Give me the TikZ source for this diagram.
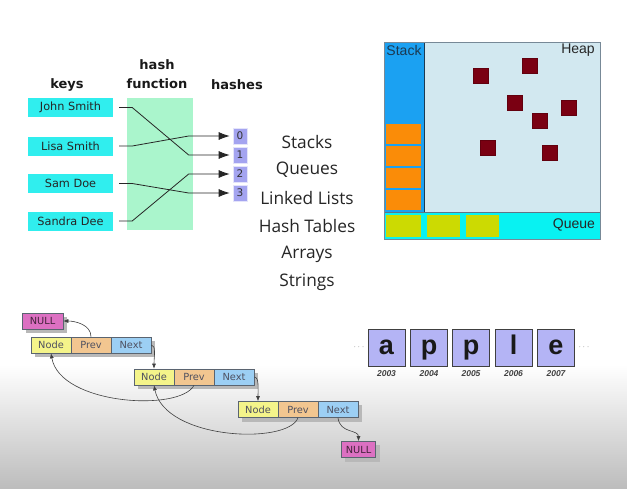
\documentclass[tikz,border=0pt]{standalone}
\usepackage{fontspec}
\setmainfont{DejaVu Sans}
\newfontfamily\opensans{Open Sans}
\newfontfamily\arial{Liberation Sans}
\usetikzlibrary{arrows.meta,calc,backgrounds}

\definecolor{keycyan}{HTML}{30EEEE}
\definecolor{hashgreen}{HTML}{AAF5CC}
\definecolor{hashlav}{HTML}{A4A4F0}
\definecolor{stackblue}{HTML}{1BA1F2}
\definecolor{heapbg}{HTML}{D2E8F0}
\definecolor{stackorange}{HTML}{FA8C08}
\definecolor{objred}{HTML}{7A0012}
\definecolor{queuecyan}{HTML}{08F2F2}
\definecolor{queueitem}{HTML}{CCDA02}
\definecolor{framedark}{HTML}{1C3A52}
\definecolor{arraylav}{HTML}{B4B4F5}
\definecolor{cellnode}{HTML}{F4F48A}
\definecolor{cellprev}{HTML}{F2C690}
\definecolor{cellnext}{HTML}{9CCFF4}
\definecolor{cellnull}{HTML}{DC70C2}
\definecolor{cellline}{HTML}{5A6470}
\definecolor{celltext}{HTML}{4E5060}

\begin{document}
\begin{tikzpicture}[x=1pt,y=-1pt,
  keybox/.style={fill=keycyan, minimum width=85pt, minimum height=19pt, inner sep=0pt,
    font=\fontsize{11.3}{13}\selectfont, text=black!85},
  hashbox/.style={fill=hashlav, draw=white!70!hashlav, line width=0.6pt, minimum width=14pt,
    minimum height=16pt, inner sep=0pt, font=\fontsize{10.5}{12}\selectfont, text=black!80},
  hline/.style={draw=black!85, line width=0.8pt, -{Latex[length=11pt,width=8pt]}},
  headlabel/.style={font=\bfseries\fontsize{13}{19}\selectfont, align=center, text=black!90},
  topic/.style={font=\opensans\fontsize{17.3}{20}\selectfont, text=black!85},
  memlabel/.style={font=\arial\fontsize{14}{16}\selectfont},
  heapobj/.style={fill=objred, draw=objred!80!black, line width=0.4pt, minimum size=15pt, inner sep=0pt},
  stackitem/.style={fill=stackorange, minimum width=35pt, minimum height=20pt, inner sep=0pt},
  queuebox/.style={fill=queueitem, minimum height=22pt, inner sep=0pt},
  charbox/.style={fill=arraylav, draw=black!75, line width=1pt, minimum size=37pt, inner sep=0pt,
    text height=19pt, text depth=5pt, font=\arial\bfseries\fontsize{27}{30}\selectfont, text=black!90},
  yearlabel/.style={font=\arial\bfseries\itshape\fontsize{8.5}{10}\selectfont, text=black!75},
  dotlabel/.style={font=\fontsize{9}{10}\selectfont, text=black!50},
  cell/.style={draw=cellline, line width=0.6pt, minimum width=40pt, minimum height=16pt,
    inner sep=0pt, font=\fontsize{9.8}{11}\selectfont, text=celltext},
  nullcell/.style={cell, fill=cellnull, minimum width=41pt, text=black!70!cellnull},
  link/.style={draw=black!75, line width=0.6pt, -{Latex[length=5pt,width=4pt]}},
  cellshadow/.style={fill=black!28}
]
\useasboundingbox (0,0) rectangle (627,488);

% page backdrop: white fading to grey at the bottom
\begin{pgfonlayer}{background}
  \fill[white] (0,0) rectangle (627,366);
  \shade[top color=white, bottom color=black!26] (0,365) rectangle (627,488);
\end{pgfonlayer}

% ---------------- hash function ----------------
\node[headlabel] (lkeys) at (67,85) {keys};
\node[headlabel] (lfunc) at (157,74.5) {hash\\function};
\node[headlabel] (lhashes) at (237,85) {hashes};

\node[fill=hashgreen, minimum width=66pt, minimum height=132pt, inner sep=0pt] (hf) at (160,164) {};

\node[keybox] (k1) at (70.5,107.5) {John Smith};
\node[keybox] (k2) at (70.5,146) {Lisa Smith};
\node[keybox] (k3) at (70.5,183.5) {Sam Doe};
\node[keybox] (k4) at (70.5,221) {Sandra Dee};

\node[hashbox] (h0) at (240,136) {0};
\node[hashbox] (h1) at (240,155) {1};
\node[hashbox] (h2) at (240,174) {2};
\node[hashbox] (h3) at (240,193) {3};

\draw[hline] ($(k1.east)+(6,0)$) -- ++(13,0) -- ($(h1.west)+(-44,0)$) -- ($(h1.west)+(-3,0)$);
\draw[hline] ($(k2.east)+(6,0)$) -- ++(13,0) -- ($(h0.west)+(-44,0)$) -- ($(h0.west)+(-3,0)$);
\draw[hline] ($(k3.east)+(6,0)$) -- ++(13,0) -- ($(h3.west)+(-44,0)$) -- ($(h3.west)+(-3,0)$);
\draw[hline] ($(k4.east)+(6,0)$) -- ++(13,0) -- ($(h2.west)+(-44,0)$) -- ($(h2.west)+(-3,0)$);

% ---------------- topics ----------------
\node[topic] (t1) at (307,142) {Stacks};
\node[topic] (t2) at (307,170) {Queues};
\node[topic] (t3) at (307,198) {Linked Lists};
\node[topic] (t4) at (307,226) {Hash Tables};
\node[topic] (t5) at (307,254) {Arrays};
\node[topic] (t6) at (307,282) {Strings};

% ---------------- stack / heap / queue ----------------
\fill[heapbg] (424,42) rectangle (600,212);
\fill[stackblue] (384,42) rectangle (424,212);
\fill[queuecyan] (384,212) rectangle (600,239);
\draw[framedark, line width=0.8pt] (384,42) rectangle (424,212);
\draw[framedark!70, line width=0.6pt] (384,212) rectangle (600,239);
\draw[framedark!60, line width=0.6pt] (384,42) rectangle (600,239);

\node[memlabel, text=framedark] (lstack) at (404,50) {Stack};
\node[memlabel, text=black!85] (lheap) at (578,50) {Heap};
\node[memlabel, text=black!85] (lqueue) at (574,225) {Queue};

\node[stackitem] (s1) at (403.5,133.5) {};
\node[stackitem] (s2) at (403.5,155.5) {};
\node[stackitem] (s3) at (403.5,177.5) {};
\node[stackitem] (s4) at (403.5,199.5) {};

\node[queuebox, minimum width=35pt] (q1) at (403.5,226) {};
\node[queuebox, minimum width=33pt] (q2) at (443.5,226) {};
\node[queuebox, minimum width=33pt] (q3) at (482.5,226) {};

\node[heapobj] (o1) at (481,76) {};
\node[heapobj] (o2) at (530,66) {};
\node[heapobj] (o3) at (515,103) {};
\node[heapobj] (o4) at (569,108) {};
\node[heapobj] (o5) at (540,121) {};
\node[heapobj] (o6) at (488,148) {};
\node[heapobj] (o7) at (550,153) {};

% ---------------- string as character array ----------------
\node[charbox] (c1) at (386.5,347.5) {a};
\node[charbox] (c2) at (429,347.5) {p};
\node[charbox] (c3) at (471,347.5) {p};
\node[charbox] (c4) at (513.5,347.5) {l};
\node[charbox] (c5) at (556,347.5) {e};
\node[yearlabel] (y1) at (386.5,374) {2003};
\node[yearlabel] (y2) at (429,374) {2004};
\node[yearlabel] (y3) at (471,374) {2005};
\node[yearlabel] (y4) at (513.5,374) {2006};
\node[yearlabel] (y5) at (556,374) {2007};
\node[dotlabel] (dl) at (359,347) {$\cdots$};
\node[dotlabel] (dr) at (584,347) {$\cdots$};

% ---------------- doubly linked list ----------------
\node[nullcell] (nulla) at (42.5,321) {NULL};
\node[cell, fill=cellnode] (n1) at (51,345) {Node};
\node[cell, fill=cellprev] (p1) at (91,345) {Prev};
\node[cell, fill=cellnext] (x1) at (131,345) {Next};
\node[cell, fill=cellnode] (n2) at (154,377) {Node};
\node[cell, fill=cellprev] (p2) at (194,377) {Prev};
\node[cell, fill=cellnext] (x2) at (234,377) {Next};
\node[cell, fill=cellnode] (n3) at (258,409.5) {Node};
\node[cell, fill=cellprev] (p3) at (298,409.5) {Prev};
\node[cell, fill=cellnext] (x3) at (338,409.5) {Next};
\node[nullcell, minimum width=34pt] (nullb) at (358.5,449.5) {NULL};

\begin{pgfonlayer}{background}
  \fill[cellshadow] ($(nulla.north west)+(4,4)$) rectangle ($(nulla.south east)+(4,4)$);
  \fill[cellshadow] ($(n1.north west)+(4,4)$) rectangle ($(x1.south east)+(4,4)$);
  \fill[cellshadow] ($(n2.north west)+(4,4)$) rectangle ($(x2.south east)+(4,4)$);
  \fill[cellshadow] ($(n3.north west)+(4,4)$) rectangle ($(x3.south east)+(4,4)$);
  \fill[cellshadow] ($(nullb.north west)+(4,4)$) rectangle ($(nullb.south east)+(4,4)$);
\end{pgfonlayer}

\draw[link] (p1.north) .. controls +(0,-12) and +(12,0) .. (nulla.east);
\draw[link] (x1.east) .. controls +(5,0) and +(0,-12) .. (n2.north);
\draw[link] (p2.south) .. controls (180,412) and (60,405) .. (n1.south);
\draw[link] (x2.east) .. controls +(5,0) and +(0,-12) .. (n3.north);
\draw[link] (p3.south) .. controls (288,445) and (165,440) .. (n2.south);
\draw[link] (x3.south) .. controls +(2,16) and +(0,-12) .. (nullb.north);
\end{tikzpicture}
\end{document}
